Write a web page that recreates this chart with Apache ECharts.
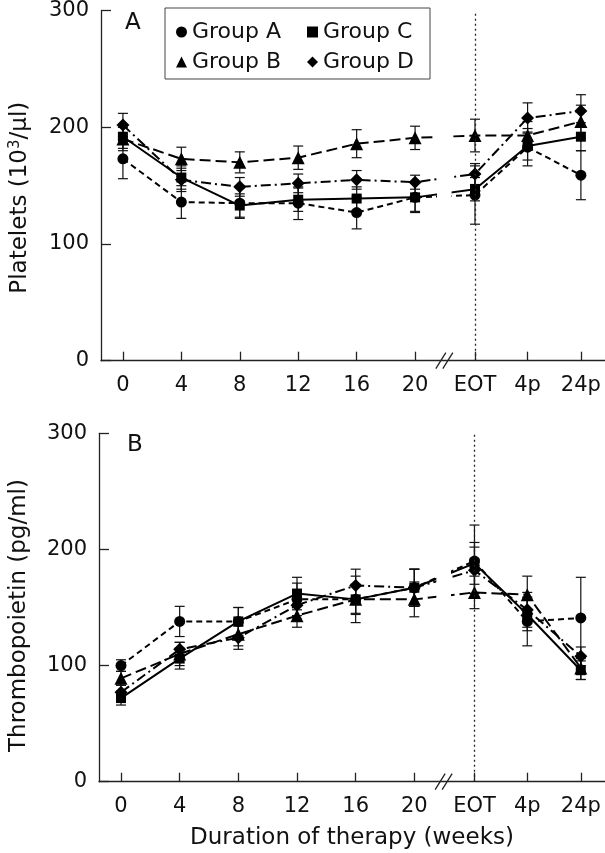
<!DOCTYPE html>
<html><head><meta charset="utf-8">
<script src="https://cdn.jsdelivr.net/npm/echarts@6/dist/echarts.min.js"></script>
<style>html,body{margin:0;padding:0;background:#fff}#c{width:605px;height:853px}</style>
</head><body><div id="c"></div>
<script>
// ---- data ----
const tickLabels = ['0','4','8','12','16','20','EOT','4p','24p'];
const xPositions = [0,4,8,12,16,20,24.1,27.7,31.35];
const groupNames = ['Group A','Group B','Group C','Group D'];
const yTicks = [0,100,200,300];

// Panel A: platelets (10^3/µl)
const pltA = [173,136,135,135,127,140,142,183,159];
const pltB = [190,173,170,174,186,191,193,193,205];
const pltC = [192,157,133,138,139,140,147,184,192];
const pltD = [202,155,149,152,155,153,160,208,214];
const pltErrA = [17,14,13,14,14,12,25,16,21];
const pltErrB = [10,10,9,10,12,10,14,12,14];
const pltErrC = [10,10,10,10,10,13,10,12,12];
const pltErrD = [10,10,8,8,8,6,9,13,14];

// Panel B: thrombopoietin (pg/ml)
const tpoA = [100,138,138,157,157,167,190,138,141];
const tpoB = [89,110,127,143,157,157,163,161,98];
const tpoC = [72,106,138,162,157,167,188,144,96];
const tpoD = [77,114,124,152,169,167,182,148,108];
const tpoErrA = [5,13,12,14,13,16,31,21,35];
const tpoErrB = [6,10,10,10,12,15,14,16,10];
const tpoErrC = [6,9,12,14,20,16,18,14,8];
const tpoErrD = [6,6,10,12,14,16,20,15,8];

// ---- styles ----
const FONT = 'DejaVu Sans';
const INK = '#111';
const symbols = ['circle','triangle','rect','diamond'];
const symbolSizes = [11,13,10,13];
const dashes = [[6,4],[11,5],'solid',[10,4,2,4]];

const chart = echarts.init(document.getElementById('c'), null, {renderer:'canvas'});

function errRender(params, api){
  const x = api.value(0), m = api.value(1), e = api.value(2);
  const hi = api.coord([x, m+e]), lo = api.coord([x, m-e]);
  const w = 5;
  const style = {stroke: INK, lineWidth: 1.2};
  return {type:'group', children:[
    {type:'line', shape:{x1:hi[0],y1:hi[1],x2:lo[0],y2:lo[1]}, style},
    {type:'line', shape:{x1:hi[0]-w,y1:hi[1],x2:hi[0]+w,y2:hi[1]}, style},
    {type:'line', shape:{x1:lo[0]-w,y1:lo[1],x2:lo[0]+w,y2:lo[1]}, style}
  ]};
}

function makeSeries(gridIdx, valsList, errList){
  const out = [];
  valsList.forEach((vals, g) => {
    out.push({
      type:'custom', name: groupNames[g], xAxisIndex:gridIdx, yAxisIndex:gridIdx,
      renderItem: errRender, z: 2, silent:true,
      encode:{x:0, y:1},
      data: xPositions.map((x,i)=>[x, vals[i], errList[g][i]])
    });
  });
  valsList.forEach((vals, g) => {
    const s = {
      type:'line', name: groupNames[g], xAxisIndex:gridIdx, yAxisIndex:gridIdx,
      symbol: symbols[g], symbolSize: symbolSizes[g], showAllSymbol:true,
      itemStyle:{color:'#000', borderWidth:0},
      lineStyle:{color:'#000', width:2, type:dashes[g]},
      z: 3, animation:false,
      data: xPositions.map((x,i)=>[x, vals[i]])
    };
    if (g === 0) {
      s.markLine = {
        silent:true, symbol:['none','none'], label:{show:false},
        lineStyle:{color:'#222', type:[2,3], width:1.3},
        data:[{xAxis: xPositions[6]}]
      };
    }
    out.push(s);
  });
  return out;
}

const xAxisBase = (gridIndex, withName) => ({
  type:'value', gridIndex, min:-1.5, max:33,
  axisLine:{show:true, onZero:false, lineStyle:{color:'#222', width:1.3}},
  axisTick:{show:true, inside:true, length:9, customValues:xPositions, lineStyle:{color:'#222', width:1.3}},
  axisLabel:{show:true, customValues:xPositions, margin:14, fontSize:21, fontFamily:FONT, color:INK,
    formatter:(v)=>{ const i = xPositions.findIndex(p=>Math.abs(p-v)<1e-6); return i>=0? tickLabels[i] : ''; }},
  splitLine:{show:false},
  name: withName ? 'Duration of therapy (weeks)' : '',
  nameLocation:'middle', nameGap:45,
  nameTextStyle:{fontSize:23, fontFamily:FONT, color:INK}
});

const yAxisBase = (gridIndex, name) => ({
  type:'value', gridIndex, min:0, max:300, interval:100,
  axisLine:{show:true, onZero:false, lineStyle:{color:'#222', width:1.3}},
  axisTick:{show:true, inside:true, length:10, lineStyle:{color:'#222', width:1.3}},
  axisLabel:{margin:12, fontSize:21, fontFamily:FONT, color:INK,
    formatter:(v)=> yTicks.includes(v) ? String(v) : ''},
  splitLine:{show:false},
  name, nameLocation:'middle', nameGap:68, nameRotate:90,
  nameTextStyle:{fontSize:23, fontFamily:FONT, color:INK,
    rich:{
      sup:{fontSize:15, fontFamily:FONT, color:INK, padding:[0,0,10,0]},
      gapA:{width:24, fontSize:23},
      gapB:{width:16, fontSize:23}
    }}
});

const option = {
  animation:false,
  backgroundColor:'#fff',
  textStyle:{fontFamily:FONT},
  title:[
    {text:'A', left:120, top:7, textStyle:{fontSize:23, fontWeight:'normal', fontFamily:FONT, color:INK}},
    {text:'B', left:122, top:429, textStyle:{fontSize:23, fontWeight:'normal', fontFamily:FONT, color:INK}}
  ],
  legend:{
    data:[{name:'Group A', icon:'circle'},{name:'Group C', icon:'rect'},
          {name:'Group B', icon:'triangle'},{name:'Group D', icon:'diamond'}],
    left:165, top:8, width:262, orient:'horizontal',
    itemWidth:11, itemHeight:11, itemGap:8,
    borderColor:'#444', borderWidth:1, padding:[13,0,6,11],
    selectedMode:false,
    itemStyle:{color:'#000'},
    textStyle:{fontSize:22, fontFamily:FONT, color:INK, width:107, lineHeight:22}
  },
  grid:[
    {left:99, top:10.7, width:506, height:350, containLabel:false},
    {left:99, top:433.3, width:506, height:348.4, containLabel:false}
  ],
  xAxis:[xAxisBase(0,false), xAxisBase(1,true)],
  yAxis:[yAxisBase(0,'Platelets (10{sup|3}/µl){gapA|}'), yAxisBase(1,'Thrombopoietin (pg/ml){gapB|}')],
  series:[
    ...makeSeries(0,[pltA,pltB,pltC,pltD],[pltErrA,pltErrB,pltErrC,pltErrD]),
    ...makeSeries(1,[tpoA,tpoB,tpoC,tpoD],[tpoErrA,tpoErrB,tpoErrC,tpoErrD])
  ]
};
chart.setOption(option);

// axis break: white gap in the lines and "//" marks on the x axis
const breakAt = 22, gapLo = 21.5, gapHi = 22.5;
const graphics = [];
[0,1].forEach(gi => {
  const topPt = chart.convertToPixel({gridIndex:gi}, [gapLo, 300]);
  const botPt = chart.convertToPixel({gridIndex:gi}, [gapHi, 0]);
  graphics.push({type:'rect', z:100, silent:true,
    shape:{x:topPt[0], y:topPt[1], width:botPt[0]-topPt[0], height:botPt[1]-topPt[1]-2},
    style:{fill:'#fff'}});
  const c = chart.convertToPixel({gridIndex:gi}, [breakAt, 0]);
  [-3.5, 3.5].forEach(dx => {
    graphics.push({type:'line', z:101, silent:true,
      shape:{x1:c[0]+dx-5, y1:c[1]+8, x2:c[0]+dx+5, y2:c[1]-8},
      style:{stroke:'#222', lineWidth:1.3}});
  });
});
chart.setOption({graphic: graphics});
</script>
</body></html>
